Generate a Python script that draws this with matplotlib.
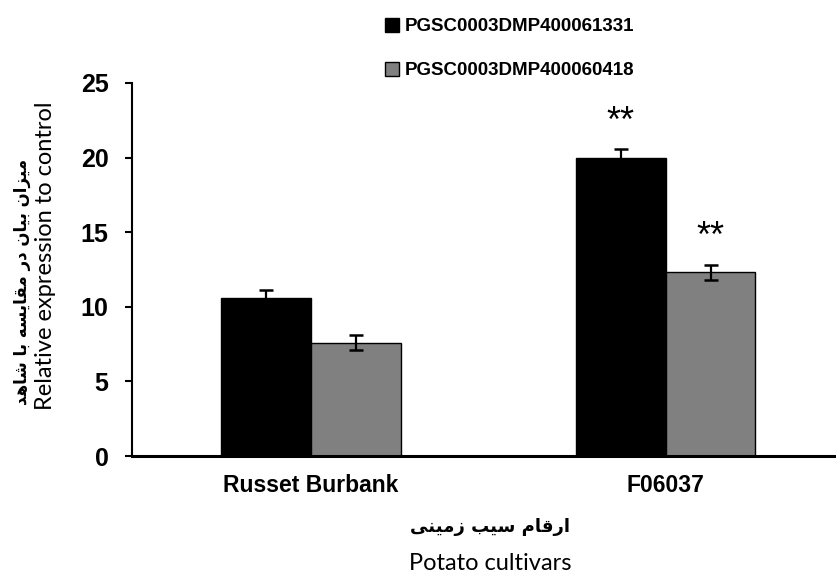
import matplotlib
matplotlib.use('Agg')
import matplotlib.pyplot as plt
import numpy as np

cultivars = ['Russet Burbank', 'F06037']
genes = ['PGSC0003DMP400061331', 'PGSC0003DMP400060418']
expr_61331 = [10.6, 20.0]
err_61331 = [0.55, 0.55]
expr_60418 = [7.6, 12.3]
err_60418 = [0.5, 0.5]
signif_61331 = ['', '**']
signif_60418 = ['', '**']
yticks = [0, 5, 10, 15, 20, 25]

ylabel_fa = 'میزان بیان در مقایسه با شاهد'
ylabel_en = 'Relative expression to control'
xlabel_fa = 'ارقام سیب زمینی'
xlabel_en = 'Potato cultivars'

# arabic presentation forms (isolated, final[, initial, medial])
FORMS = {
    'ا': ('\uFE8D', '\uFE8E'),
    'د': ('\uFEA9', '\uFEAA'),
    'ر': ('\uFEAD', '\uFEAE'),
    'ز': ('\uFEAF', '\uFEB0'),
    'ب': ('\uFE8F', '\uFE90', '\uFE91', '\uFE92'),
    'س': ('\uFEB1', '\uFEB2', '\uFEB3', '\uFEB4'),
    'ش': ('\uFEB5', '\uFEB6', '\uFEB7', '\uFEB8'),
    'ق': ('\uFED5', '\uFED6', '\uFED7', '\uFED8'),
    'م': ('\uFEE1', '\uFEE2', '\uFEE3', '\uFEE4'),
    'ن': ('\uFEE5', '\uFEE6', '\uFEE7', '\uFEE8'),
    'ه': ('\uFEE9', '\uFEEA', '\uFEEB', '\uFEEC'),
    'ی': ('\uFBFC', '\uFBFD', '\uFBFE', '\uFBFF'),
}


def shape(text):
    # matplotlib has no arabic shaping / bidi, so do it by hand
    out = []
    for i, ch in enumerate(text):
        if ch not in FORMS:
            out.append(ch)
            continue
        f = FORMS[ch]
        prev = text[i - 1] if i > 0 else ''
        nxt = text[i + 1] if i + 1 < len(text) else ''
        left = prev in FORMS and len(FORMS[prev]) == 4
        right = len(f) == 4 and nxt in FORMS
        if left and right:
            out.append(f[3])
        elif left:
            out.append(f[1])
        elif right:
            out.append(f[2])
        else:
            out.append(f[0])
    return ''.join(reversed(out))


plt.rcParams['font.family'] = ['Liberation Sans', 'DejaVu Sans']

fig = plt.figure(figsize=(8.36, 5.73), dpi=100)
ax = fig.add_axes([132 / 836, 1 - 456 / 573, 1 - 132 / 836, (456 - 83) / 573])

x = np.arange(len(cultivars))
w = 0.253
err_kw = dict(ecolor='black', elinewidth=1.6, capsize=5, capthick=1.8)
b1 = ax.bar(x - w / 2, expr_61331, w, yerr=err_61331, color='black',
            edgecolor='black', linewidth=1, error_kw=err_kw, label=genes[0])
b2 = ax.bar(x + w / 2, expr_60418, w, yerr=err_60418, color='#808080',
            edgecolor='black', linewidth=1, error_kw=err_kw, label=genes[1])

for xs, vals, errs, sig in [(x - w / 2, expr_61331, err_61331, signif_61331),
                            (x + w / 2, expr_60418, err_60418, signif_60418)]:
    for xi, v, e, s in zip(xs, vals, errs, sig):
        if s:
            ax.text(xi, v + e + 0.65, s, ha='center', va='bottom', fontsize=26)

ax.set_xlim(-0.504, 1.48)
ax.set_ylim(0, 25)
ax.set_yticks(yticks)
ax.set_xticks(x)
ax.set_xticklabels(cultivars, fontsize=16.5, fontweight='bold')
ax.tick_params(axis='x', length=0, pad=13)
ax.tick_params(axis='y', length=5, width=1.5, pad=12, labelsize=18)
for lab in ax.get_yticklabels():
    lab.set_fontweight('bold')

for side in ['top', 'right']:
    ax.spines[side].set_visible(False)
ax.spines['left'].set_linewidth(1.5)
ax.spines['bottom'].set_linewidth(2.2)

fig.legend(handles=[b1, b2], loc='upper left', bbox_to_anchor=(368 / 836, 1 - 1 / 573),
           frameon=False, prop={'weight': 'bold', 'size': 13.5},
           handlelength=0.75, handleheight=0.75, handletextpad=0.3, labelspacing=1.42)

fig.text(22 / 836, 1 - 282 / 573, shape(ylabel_fa), rotation=90, ha='center', va='center',
         fontsize=12, fontweight='bold', family='DejaVu Sans')
fig.text(46 / 836, 1 - 256 / 573, ylabel_en, rotation=90, ha='center', va='center',
         fontsize=17, family='Lato')
fig.text(490 / 836, 1 - 527 / 573, shape(xlabel_fa), ha='center', va='center',
         fontsize=13, fontweight='bold', family='DejaVu Sans')
fig.text(490 / 836, 1 - 564 / 573, xlabel_en, ha='center', va='center',
         fontsize=17, family='Lato')

fig.savefig('out.png', dpi=100)
